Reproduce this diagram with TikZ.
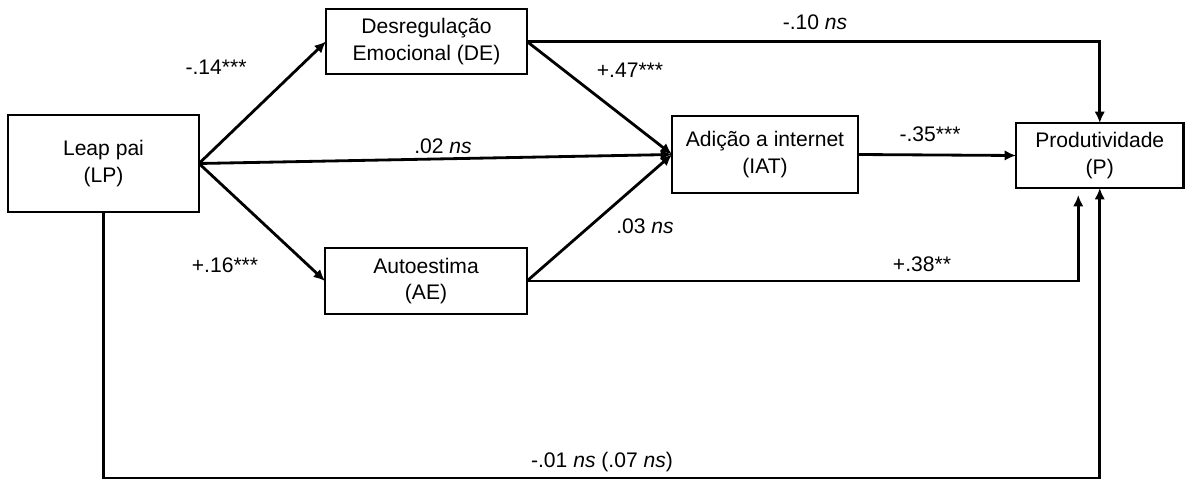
\documentclass[tikz,border=0pt]{standalone}
\usepackage{fontspec}
\setmainfont{Liberation Sans}
\usepackage{tikz}
\usetikzlibrary{positioning,arrows.meta}

\begin{document}
\begin{tikzpicture}[
  line width=1.6pt,
  font=\fontsize{12}{15.3}\selectfont,
  varbox/.style={draw,rectangle,align=center,inner sep=0pt,outer sep=0pt},
  path/.style={-{Latex[length=6.5pt,width=6pt]}},
  coef/.style={inner sep=1pt}
]
\useasboundingbox (-2.07,3.27) rectangle (21.63,-6.37);
\node[varbox,minimum width=3.82cm,minimum height=1.94cm] (LP) at (0,0) {Leap pai\\(LP)};
\node[varbox,minimum width=4.02cm,minimum height=1.30cm,above right=0.82cm and 2.54cm of LP] (DE) {Desregulação\\Emocional (DE)};
\node[varbox,minimum width=4.04cm,minimum height=1.32cm,below right=0.72cm and 2.52cm of LP] (AE) {Autoestima\\(AE)};
\node[varbox,minimum width=3.72cm,minimum height=1.54cm,right=9.46cm of LP,yshift=0.18cm] (IAT) {Adição a internet\\(IAT)};
\node[varbox,minimum width=3.35cm,minimum height=1.30cm,right=3.16cm of IAT,yshift=-0.02cm] (P) {Produtividade\\(P)};

\coordinate (Pin) at ([xshift=-0.43cm,yshift=-0.14cm]P.south);
\coordinate (LPbot) at ([yshift=-5.32cm]LP.south);

% caminhos
\draw[path] (LP.east) -- (DE.west);
\draw[path] (LP.east) -- (AE.west);
\draw[path] (LP.east) -- (IAT.west);
\draw[path] (DE.east) -- (IAT.west);
\draw[path] (AE.east) -- (IAT.west);
\draw[path] (DE.east) -| (P.north);
\draw[path] (IAT.east) -- (P.west);
\draw[path] (AE.east) -| (Pin);
\draw[path] (LP.south) -- (LPbot) -| (P.south);

% coeficientes
\node[coef] (cLPDE) at (2.25,1.93) {-.14***};
\node[coef] (cDEIAT) at (10.53,1.87) {+.47***};
\node[coef] (cDEP) at (14.23,2.83) {-.10 \textit{ns}};
\node[coef] (cLPIAT) at (6.79,0.35) {.02 \textit{ns}};
\node[coef] (cIATP) at (16.53,0.59) {-.35***};
\node[coef] (cAEIAT) at (10.83,-1.25) {.03 \textit{ns}};
\node[coef] (cLPAE) at (2.43,-2.03) {+.16***};
\node[coef] (cAEP) at (16.37,-2.01) {+.38**};
\node[coef] (cLPP) at (9.97,-5.97) {-.01 \textit{ns} (.07 \textit{ns})};
\end{tikzpicture}
\end{document}
